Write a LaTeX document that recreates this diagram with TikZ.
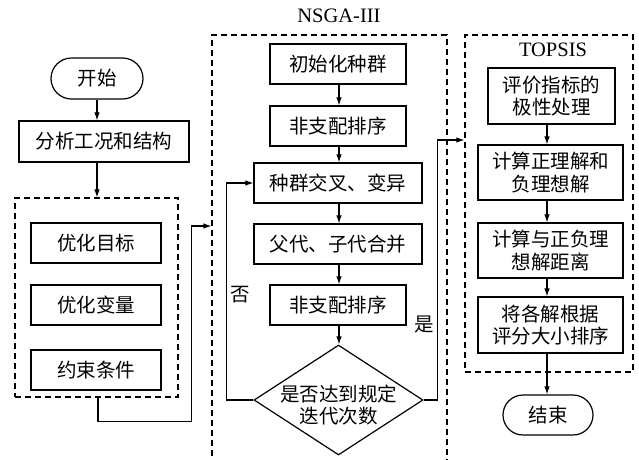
\documentclass[tikz,border=0pt]{standalone}
\usepackage{fontspec}
\setmainfont{Liberation Serif}
\newfontfamily\cjk{Noto Sans CJK SC}
\usetikzlibrary{arrows.meta,shapes.geometric,shapes.misc}
\begin{document}
\begin{tikzpicture}[x=1pt,y=-1pt,
  line width=1.1pt,
  box/.style={draw,line width=1.2pt,minimum height=40pt,inner sep=0pt,
    font=\cjk\fontsize{19.5}{22.5}\selectfont,align=center},
  term/.style={box,rounded rectangle,minimum height=41pt},
  grp/.style={draw,dash pattern=on 6pt off 4pt,line width=1.1pt,inner sep=0pt},
  title/.style={font=\fontsize{20.5}{24}\selectfont,inner sep=0pt},
  lbl/.style={font=\cjk\fontsize{19.5}{23}\selectfont,inner sep=0pt},
  arr/.style={-{Latex[length=8pt,width=5.5pt]},line width=1.1pt}]
\useasboundingbox (0,0) rectangle (639,459);
\clip (0,0) rectangle (639,459);
\fill[white] (0,0) rectangle (639,459);

% left column
\node[term,minimum width=92pt] (start) at (97,78.5) {开始};
\node[box,minimum width=170pt,minimum height=41pt] (ana) at (104,141.5) {分析工况和结构};
\node[grp,minimum width=163pt,minimum height=199pt] (g1) at (96.5,297.5) {};
\node[box,minimum width=130pt] (o1) at (96,243) {优化目标};
\node[box,minimum width=130pt] (o2) at (96,305) {优化变量};
\node[box,minimum width=130pt] (o3) at (96,370) {约束条件};

% NSGA box
\node[grp,minimum width=235pt,minimum height=445pt] (nsga) at (329.5,257.5) {};
\node[title] (nt) at (339,16) {NSGA-III};
\node[box,minimum width=136pt] (init) at (338,64) {初始化种群};
\node[box,minimum width=136pt] (nd1) at (338,126) {非支配排序};
\node[box,minimum width=168pt] (cross) at (338,183) {种群交叉、变异};
\node[box,minimum width=168pt] (merge) at (338,244) {父代、子代合并};
\node[box,minimum width=136pt] (nd2) at (338,305) {非支配排序};
\node[draw,diamond,line width=1.2pt,inner sep=0pt,minimum width=169pt,minimum height=110pt] (dia) at (338.5,400) {};
\node[box,draw=none,align=center] (diat) at (338.5,405) {是否达到规定\\迭代次数};
\node[lbl] (no) at (240,295) {否};
\node[lbl] (yes) at (424,324) {是};

% TOPSIS box
\node[grp,minimum width=168pt,minimum height=337pt] (tp) at (549,203.5) {};
\node[title] (tt) at (553,50) {TOPSIS};
\node[box,minimum width=127pt,minimum height=56pt] (t1) at (551.5,96) {评价指标的\\极性处理};
\node[box,minimum width=145pt,minimum height=55pt] (t2) at (550.5,172.5) {计算正理解和\\负理想解};
\node[box,minimum width=145pt,minimum height=55pt] (t3) at (550.5,250.5) {计算与正负理\\想解距离};
\node[box,minimum width=145pt,minimum height=56pt] (t4) at (550.5,325) {将各解根据\\评分大小排序};
\node[term,minimum width=90pt,minimum height=40pt] (end) at (548,415) {结束};

\coordinate (nin) at (nsga.west |- 0,226);
\coordinate (tin) at (tp.west |- 0,140);
\coordinate (ax) at (339,0);
\coordinate (bx) at (547,0);

% connectors
\draw[arr] (start.south) -- (start.south |- ana.north);
\draw[arr] (start.south |- ana.south) -- (start.south |- g1.north);
\draw[arr] ([xshift=1.5pt]g1.south) -- ++(0,24) -| ([xshift=-20pt]nin) -- (nin);

\draw[arr] (ax |- init.south) -- (ax |- nd1.north);
\draw[arr] (ax |- nd1.south) -- (ax |- cross.north);
\draw[arr] (ax |- cross.south) -- (ax |- merge.north);
\draw[arr] (ax |- merge.south) -- (ax |- nd2.north);
\draw[arr] (ax |- nd2.south) -- (ax |- dia.north);
\draw[arr] (dia.west) -- ++(-27,0) |- (cross.west);
\draw[arr] (dia.east) -- ++(14,0) |- (tin);

\draw[arr] (bx |- t1.south) -- (bx |- t2.north);
\draw[arr] (bx |- t2.south) -- (bx |- t3.north);
\draw[arr] (bx |- t3.south) -- (bx |- t4.north);
\draw[arr] (bx |- t4.south) -- (bx |- end.north);
\end{tikzpicture}
\end{document}
